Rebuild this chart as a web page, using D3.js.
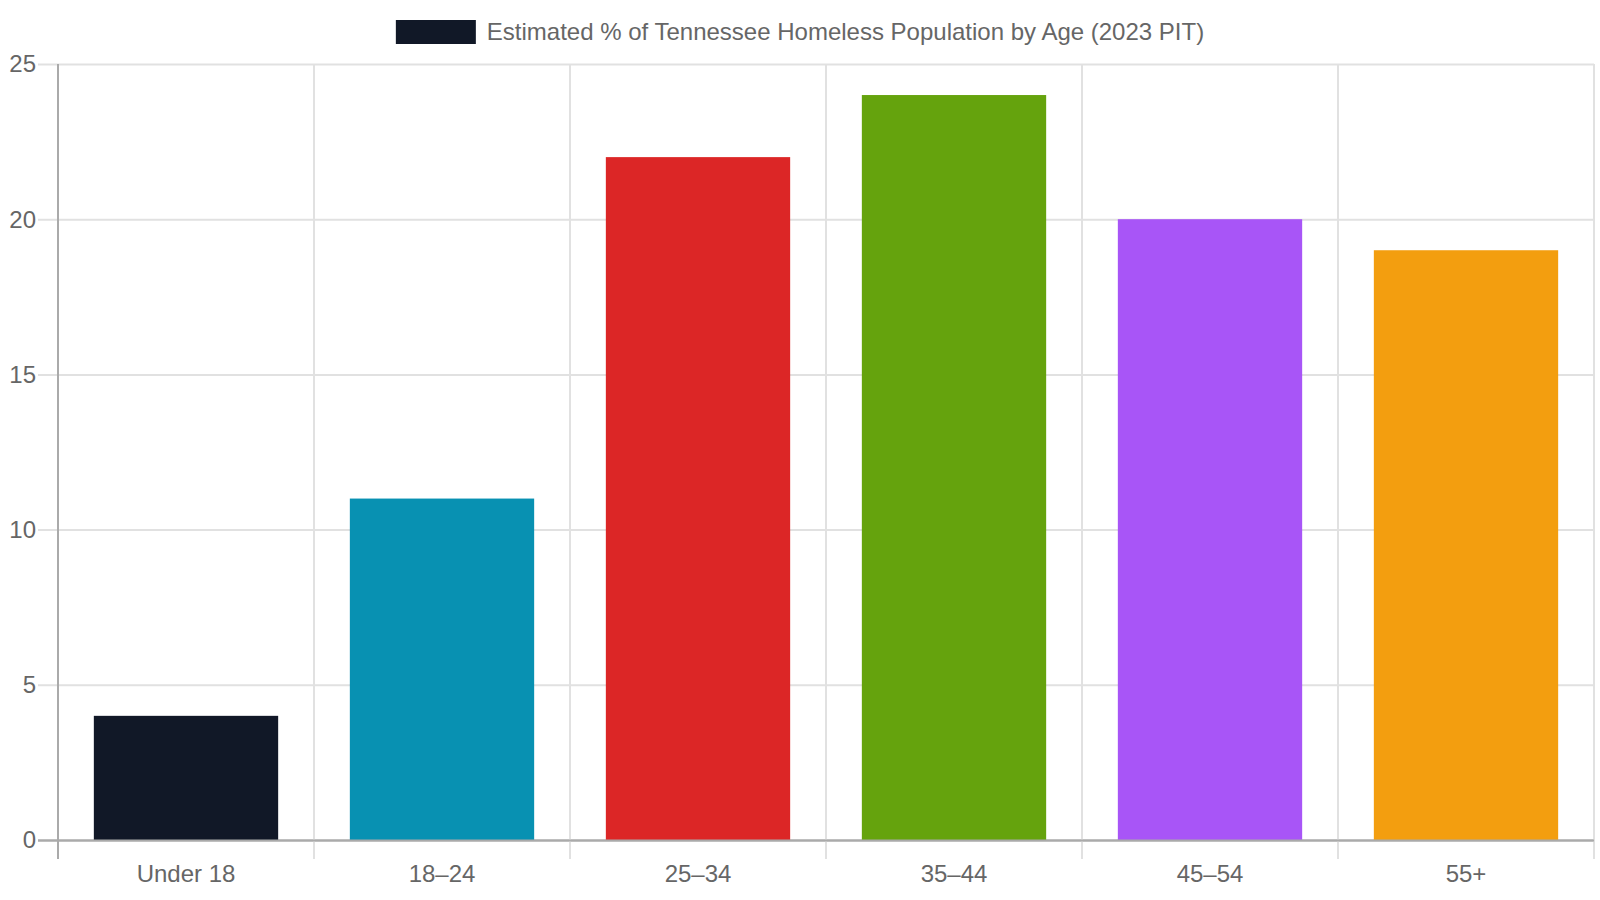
<!DOCTYPE html>
<html>
<head>
<meta charset="utf-8">
<script src="https://cdn.jsdelivr.net/npm/d3@7"></script>
<style>
  body { margin: 0; background: #fff; }
  svg { display: block; font-family: "Liberation Sans", Arial, sans-serif; }
</style>
</head>
<body>
<div id="chart"></div>
<script>
const categories = ['Under 18', '18–24', '25–34', '35–44', '45–54', '55+'];
const values = [4, 11, 22, 24, 20, 19];
const barColors = ['#111827', '#0891b2', '#dc2626', '#65a30d', '#a855f7', '#f39e0f'];
const yTicks = [0, 5, 10, 15, 20, 25];
const seriesLabel = 'Estimated % of Tennessee Homeless Population by Age (2023 PIT)';

const width = 1600, height = 900;
const margin = { top: 64, right: 6, bottom: 60, left: 58 };
const plotW = width - margin.left - margin.right;
const plotH = height - margin.top - margin.bottom;

const svg = d3.select('#chart').append('svg')
  .attr('width', width)
  .attr('height', height);

const x = d3.scaleBand().domain(categories).range([0, plotW]).paddingInner(0).paddingOuter(0);
const y = d3.scaleLinear().domain([0, 25]).range([plotH, 0]);

const chart = svg.append('g')
  .attr('transform', `translate(${margin.left}, ${margin.top})`);

// horizontal gridlines + tick stubs
chart.selectAll('.hgrid')
  .data(yTicks)
  .enter()
  .append('line')
  .attr('x1', -20)
  .attr('x2', plotW)
  .attr('y1', d => y(d) + 0.5)
  .attr('y2', d => y(d) + 0.5)
  .attr('stroke', d => d === 0 ? '#aaa' : '#e1e1e1')
  .attr('stroke-width', 2);

// vertical gridlines (category boundaries)
const bounds = categories.map(c => x(c)).concat([plotW]);
chart.selectAll('.vgrid')
  .data(bounds)
  .enter()
  .append('line')
  .attr('x1', d => d)
  .attr('x2', d => d)
  .attr('y1', 0)
  .attr('y2', plotH + 19)
  .attr('stroke', (d, i) => i === 0 ? '#aaa' : '#e1e1e1')
  .attr('stroke-width', 2);

// bars
const barW = x.bandwidth() * 0.72;
chart.selectAll('.bar')
  .data(values)
  .enter()
  .append('rect')
  .attr('class', 'bar')
  .attr('x', (d, i) => x(categories[i]) + (x.bandwidth() - barW) / 2)
  .attr('y', d => y(d))
  .attr('width', barW)
  .attr('height', d => plotH - y(d))
  .attr('fill', (d, i) => barColors[i]);

// x axis line
chart.append('line')
  .attr('x1', -20).attr('x2', plotW)
  .attr('y1', plotH + 0.5).attr('y2', plotH + 0.5)
  .attr('stroke', '#aaa')
  .attr('stroke-width', 2);

// y tick labels
chart.selectAll('.ylab')
  .data(yTicks)
  .enter()
  .append('text')
  .attr('x', -22)
  .attr('y', d => y(d))
  .attr('dy', '0.35em')
  .attr('text-anchor', 'end')
  .attr('fill', '#666')
  .style('font-size', '24px')
  .text(d => d);

// x tick labels
chart.selectAll('.xlab')
  .data(categories)
  .enter()
  .append('text')
  .attr('x', d => x(d) + x.bandwidth() / 2)
  .attr('y', plotH + 34)
  .attr('dy', '0.35em')
  .attr('text-anchor', 'middle')
  .attr('fill', '#666')
  .style('font-size', '24px')
  .text(d => d);

// legend
const legend = svg.append('g');
const legText = legend.append('text')
  .attr('x', 0)
  .attr('y', 32)
  .attr('dy', '0.35em')
  .attr('fill', '#666')
  .style('font-size', '24px')
  .text(seriesLabel);
const tw = legText.node().getComputedTextLength();
const boxW = 80, gap = 11;
const totalW = boxW + gap + tw;
const lx = (width - totalW) / 2;
legend.append('rect')
  .attr('x', lx)
  .attr('y', 20)
  .attr('width', boxW)
  .attr('height', 24)
  .attr('fill', barColors[0]);
legText.attr('x', lx + boxW + gap);
</script>
</body>
</html>
